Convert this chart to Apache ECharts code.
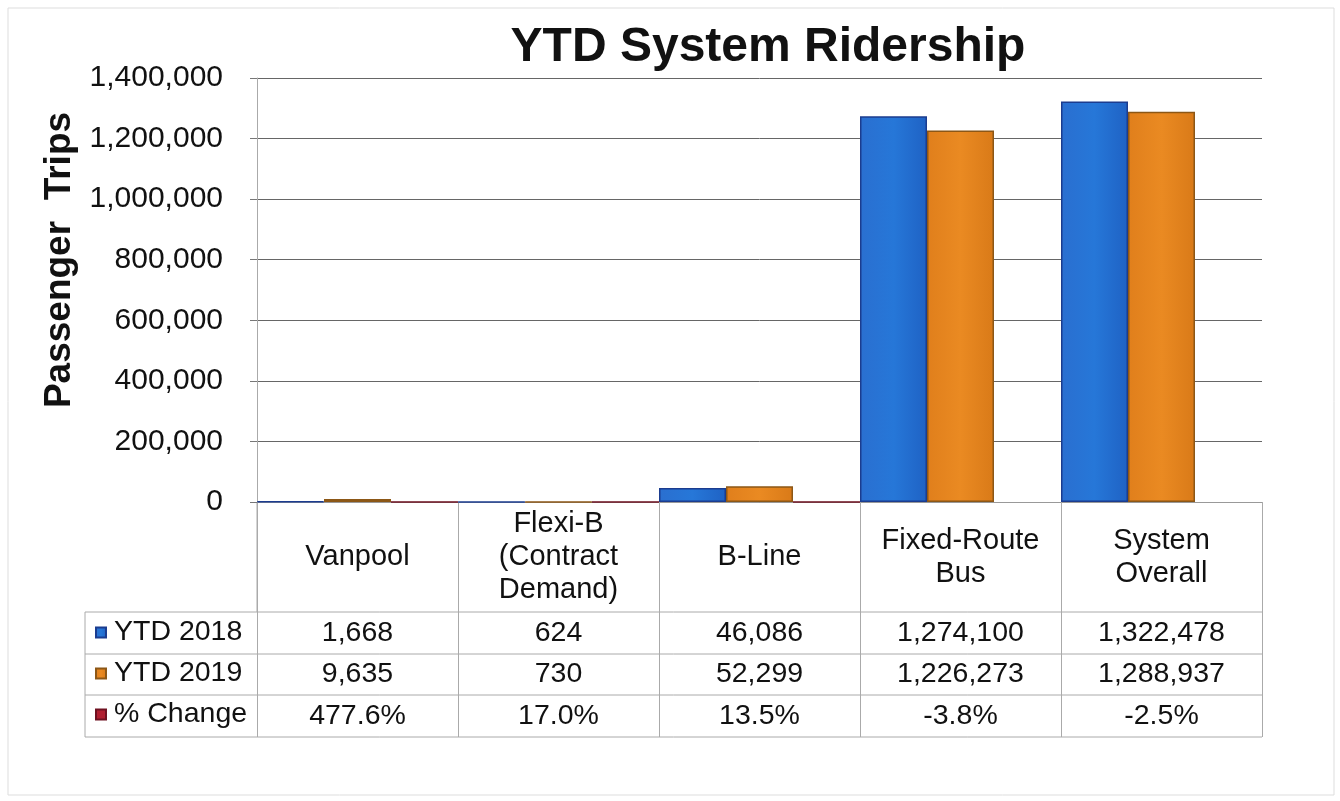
<!DOCTYPE html>
<html lang="en">
<head>
    <meta charset="UTF-8">
    <title>YTD System Ridership</title>
    <script src="https://cdn.jsdelivr.net/npm/echarts@6/dist/echarts.min.js"></script>
    <style>
        html, body { margin: 0; padding: 0; background: #fff; }
        #main { width: 1340px; height: 801px; }
    </style>
</head>
<body>
    <div id="main"></div>
    <script>
        // data
        var categories = ['Vanpool', 'Flexi-B\n(Contract\nDemand)', 'B-Line', 'Fixed-Route\nBus', 'System\nOverall'];
        var ytd2018 = [1668, 624, 46086, 1274100, 1322478];
        var ytd2019 = [9635, 730, 52299, 1226273, 1288937];
        var pctChange = [477.6, 17.0, 13.5, -3.8, -2.5];
        var yTicks = [0, 200000, 400000, 600000, 800000, 1000000, 1200000, 1400000];

        var font = '"Liberation Sans", Arial, sans-serif';
        var W = 1340, H = 801;
        var plotLeft = 257, plotRight = 1262, plotTop = 78, plotBottom = 502;
        var tableLeft = 85;
        var rowLines = [612, 654, 695, 737]; // table horizontal rules

        function fmt(n) { return n.toLocaleString('en-US'); }

        var rowNames = ['YTD 2018', 'YTD 2019', '% Change'];
        var rowTexts = [
            ytd2018.map(fmt),
            ytd2019.map(fmt),
            pctChange.map(function (v) { return v.toFixed(1) + '%'; })
        ];

        var grids = [{ left: plotLeft, right: W - plotRight, top: plotTop, bottom: H - plotBottom }];
        var xAxes = [{
            type: 'category',
            data: categories,
            gridIndex: 0,
            axisLine: { lineStyle: { color: '#999', width: 1 } },
            axisTick: { show: true, interval: 0, length: rowLines[3] - plotBottom, lineStyle: { color: '#aaa' } },
            axisLabel: {
                interval: 0, margin: 55, verticalAlign: 'middle', lineHeight: 33,
                fontSize: 29, color: '#111', fontFamily: font
            }
        }];
        var yAxes = [{
            type: 'value',
            gridIndex: 0,
            min: yTicks[0], max: yTicks[yTicks.length - 1], interval: yTicks[1] - yTicks[0],
            name: 'Passenger  Trips',
            nameLocation: 'middle',
            nameGap: 174,
            nameTextStyle: { fontSize: 37, fontWeight: 'bold', color: '#111', fontFamily: font, padding: [0, 0, 0, 60] },
            axisLine: { show: true, lineStyle: { color: '#aaa' } },
            axisTick: { show: true, length: 7, lineStyle: { color: '#777' } },
            axisLabel: { margin: 34, fontSize: 30, color: '#111', fontFamily: font, formatter: function (v) { return fmt(v); } },
            splitLine: { lineStyle: { color: '#666', width: 1 } }
        }];

        // one thin grid per table row so the row texts line up with the categories
        for (var i = 0; i < 3; i++) {
            var mid = (rowLines[i] + rowLines[i + 1]) / 2;
            grids.push({ left: plotLeft, right: W - plotRight, top: rowLines[i], bottom: H - mid });
            yAxes.push({ type: 'value', gridIndex: i + 1, show: false });
            xAxes.push({
                type: 'category',
                gridIndex: i + 1,
                data: rowTexts[i],
                axisLine: { show: false },
                axisTick: { show: false },
                splitLine: { show: false },
                axisLabel: { interval: 0, margin: 0, verticalAlign: 'middle', fontSize: 28.5, color: '#111', fontFamily: font }
            });
        }

        var graphics = [
            { type: 'rect', shape: { x: 8, y: 8, width: W - 14, height: H - 14 }, style: { fill: 'none', stroke: '#ddd', lineWidth: 1 }, silent: true },
            { type: 'line', shape: { x1: tableLeft, y1: rowLines[0], x2: tableLeft, y2: rowLines[3] }, style: { stroke: '#aaa', lineWidth: 1 } }
        ];
        rowLines.forEach(function (y) {
            graphics.push({ type: 'line', shape: { x1: tableLeft, y1: y, x2: plotRight, y2: y }, style: { stroke: '#aaa', lineWidth: 1 } });
        });
        graphics.push({ type: 'line', shape: { x1: plotLeft, y1: plotBottom, x2: plotLeft, y2: rowLines[0] }, style: { stroke: '#aaa', lineWidth: 1 } });

        var myChart = echarts.init(document.getElementById('main'));
        var option = {
            backgroundColor: '#fff',
            animation: false,
            title: {
                text: 'YTD System Ridership',
                left: 763, top: 19, textAlign: 'center',
                textStyle: { fontSize: 48, fontWeight: 'bold', color: '#111', fontFamily: font }
            },
            legend: {
                orient: 'vertical',
                left: 90, top: rowLines[0] - 5,
                itemGap: 0, itemWidth: 10, itemHeight: 10, icon: 'rect',
                data: rowNames,
                textStyle: { fontSize: 28.5, lineHeight: 41, color: '#111', fontFamily: font, padding: [0, 0, 0, 3] }
            },
            grid: grids,
            xAxis: xAxes,
            yAxis: yAxes,
            graphic: graphics,
            series: [
                {
                    name: 'YTD 2018', type: 'bar', data: ytd2018,
                    barGap: '0%', barCategoryGap: '0%',
                    itemStyle: {
                        color: new echarts.graphic.LinearGradient(0, 0, 1, 0, [
                            { offset: 0, color: '#2a6fd0' }, { offset: 0.5, color: '#2677d8' }, { offset: 1, color: '#1f62c4' }
                        ]),
                        borderColor: '#1b3c8f', borderWidth: 1.5
                    }
                },
                {
                    name: 'YTD 2019', type: 'bar', data: ytd2019,
                    barGap: '0%', barCategoryGap: '0%',
                    itemStyle: {
                        color: new echarts.graphic.LinearGradient(0, 0, 1, 0, [
                            { offset: 0, color: '#e07f1c' }, { offset: 0.5, color: '#ea8a22' }, { offset: 1, color: '#d97a18' }
                        ]),
                        borderColor: '#8c5716', borderWidth: 1.5
                    }
                },
                {
                    name: '% Change', type: 'bar',
                    data: pctChange.map(function (v) { return v / 100; }),
                    barGap: '0%', barCategoryGap: '0%',
                    itemStyle: { color: '#b01e30', borderColor: '#6e1020', borderWidth: 1 }
                }
            ]
        };
        myChart.setOption(option);
    </script>
</body>
</html>
